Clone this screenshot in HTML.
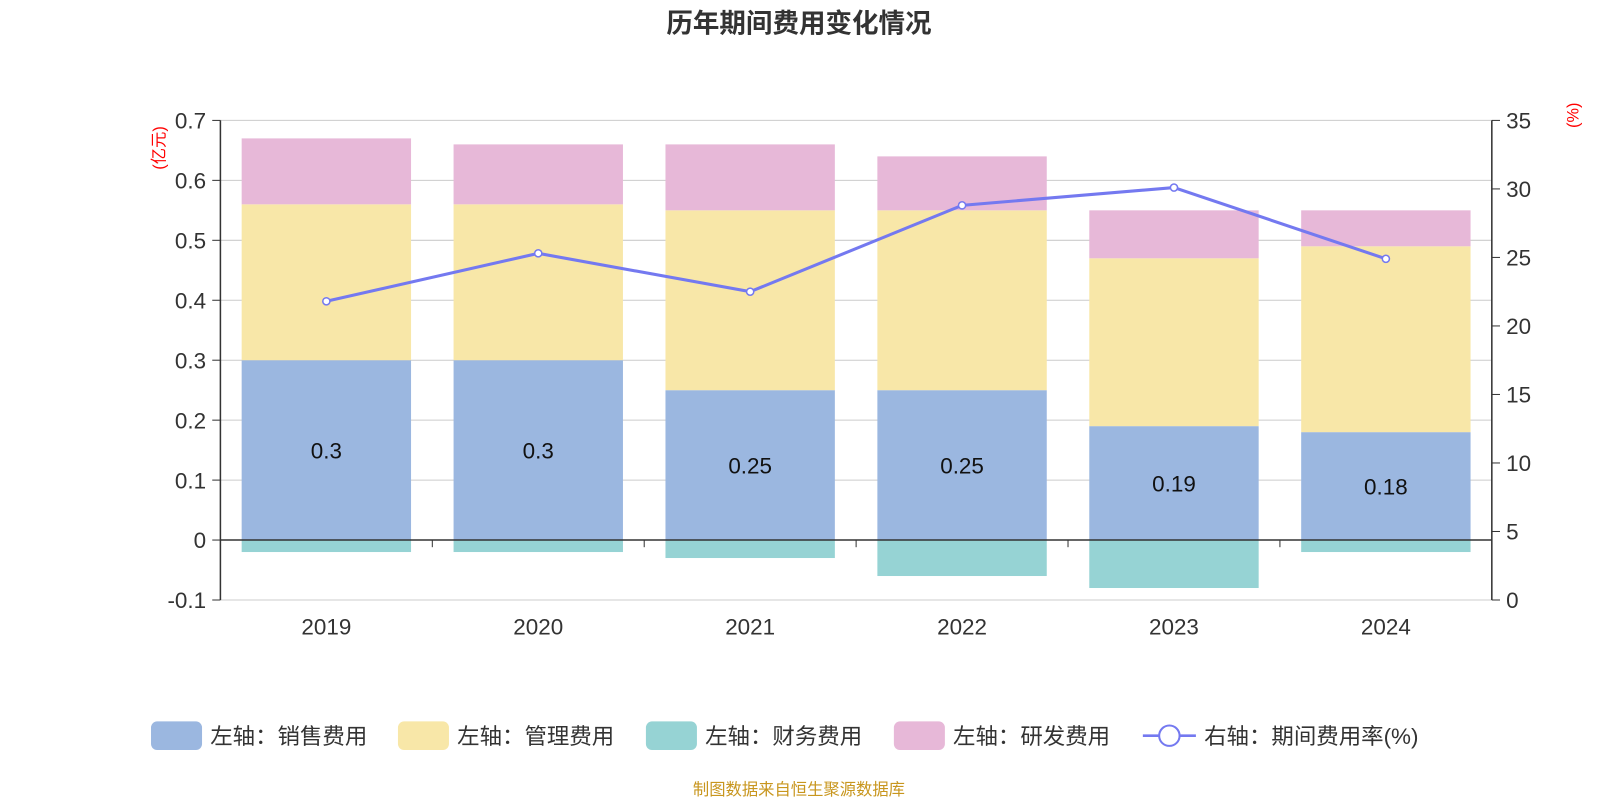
<!DOCTYPE html>
<html><head><meta charset="utf-8"><style>
body{margin:0;background:#fff;}
svg text{font-family:"Liberation Sans","Noto Sans CJK SC",sans-serif;}
</style></head><body>
<svg id="c" width="1600" height="800" xmlns="http://www.w3.org/2000/svg">
<g transform="scale(1.0204)">
<text x="783" y="32" text-anchor="middle" font-size="26" font-weight="bold" fill="#333">历年期间费用变化情况</text>
<g id="grid"></g><g id="bars"></g><g id="axes"></g><g id="line"></g><g id="legend"></g>
<text x="783" y="779" text-anchor="middle" font-size="16" fill="#c8961e">制图数据来自恒生聚源数据库</text>
</g>
</svg>
<script>
const categories=["2019","2020","2021","2022","2023","2024"];
const sales=[0.3,0.3,0.25,0.25,0.19,0.18];
const mgmt=[0.26,0.26,0.30,0.30,0.28,0.31];
const finance=[-0.02,-0.02,-0.03,-0.06,-0.08,-0.02];
const rnd=[0.11,0.10,0.11,0.09,0.08,0.06];
const rate=[21.8,25.3,22.5,28.8,30.1,24.9];
const leftTicks=[-0.1,0,0.1,0.2,0.3,0.4,0.5,0.6,0.7];
const rightTicks=[0,5,10,15,20,25,30,35];
const NS="http://www.w3.org/2000/svg";
const X0=216,X1=1462,Y0=588,Y1=118;
const band=(X1-X0)/categories.length;
const xc=i=>X0+band*(i+0.5);
const yL=v=>Y0-(v+0.1)/0.8*(Y0-Y1);
const yR=v=>Y0-v/35*(Y0-Y1);
function mk(tag,attrs,parent,txt){const e=document.createElementNS(NS,tag);for(const k in attrs)e.setAttribute(k,attrs[k]);if(txt!==undefined)e.textContent=txt;document.getElementById(parent).appendChild(e);return e;}
leftTicks.forEach((t,i)=>{
 const y=yL(t);
 const g=mk('line',{x1:X0,x2:X1,y1:y,y2:y,stroke:'#ccc','stroke-width':1},'grid');
 
 
 const tk=mk('line',{x1:X0-8,x2:X0,y1:y,y2:y,stroke:'#333'},'axes');
 
 
 const l=mk('text',{x:X0-14,y:y+8,'text-anchor':'end','font-size':22,fill:'#333'},'axes',String(t));
 
 
});
rightTicks.forEach(t=>{
 const y=yR(t);
 const tk=mk('line',{x1:X1,x2:X1+8,y1:y,y2:y,stroke:'#333'},'axes');
 
 
 const l=mk('text',{x:X1+14,y:y+8,'font-size':22,fill:'#333'},'axes',String(t));
 
 
});
let a=mk('line',{x1:X0,x2:X0,y1:Y1,y2:Y0,stroke:'#333','stroke-width':1.5},'axes');

a=mk('line',{x1:X1,x2:X1,y1:Y1,y2:Y0,stroke:'#333','stroke-width':1.5},'axes');

a=mk('line',{x1:X0,x2:X1,y1:yL(0),y2:yL(0),stroke:'#333','stroke-width':1.5},'axes');

a=mk('text',{x:0,y:0,transform:`translate(161,145) rotate(-90)`,'text-anchor':'middle','font-size':16,fill:'red'},'axes','(亿元)');

a=mk('text',{x:0,y:0,transform:`translate(1547,113) rotate(-90)`,'text-anchor':'middle','font-size':16,fill:'red'},'axes','(%)');

const bw=166;
categories.forEach((c,i)=>{
 const x=xc(i)-bw/2;
 if(i>0){const tk=mk('line',{x1:X0+band*i,x2:X0+band*i,y1:yL(0),y2:yL(0)+7,stroke:'#333'},'axes');
 }
 const lb=mk('text',{x:xc(i),y:622,'text-anchor':'middle','font-size':22,fill:'#333'},'axes',c);
 
 let r=mk('rect',{x:x,y:yL(sales[i]),width:bw,height:yL(0)-yL(sales[i]),fill:'#9bb7e0'},'bars');
 
 r=mk('rect',{x:x,y:yL(sales[i]+mgmt[i]),width:bw,height:yL(sales[i])-yL(sales[i]+mgmt[i]),fill:'#f8e7a8'},'bars');
 
 const top=sales[i]+mgmt[i]+rnd[i];
 r=mk('rect',{x:x,y:yL(top),width:bw,height:yL(sales[i]+mgmt[i])-yL(top),fill:'#e7b8d8'},'bars');
 
 r=mk('rect',{x:x,y:yL(0),width:bw,height:yL(finance[i])-yL(0),fill:'#96d3d4'},'bars');
 
 const t=mk('text',{x:xc(i),y:(yL(0)+yL(sales[i]))/2+8,'text-anchor':'middle','font-size':22,fill:'#111'},'bars',String(sales[i]));
 
});
const pts=rate.map((v,i)=>xc(i)+','+yR(v)).join(' ');
const pl=mk('polyline',{points:pts,fill:'none',stroke:'#7479f0','stroke-width':3},'line');

rate.forEach((v,i)=>{const p=mk('circle',{cx:xc(i),cy:yR(v),r:3.5,fill:'#fff',stroke:'#7479f0','stroke-width':1.5},'line');
 });
const legend=[["左轴：销售费用","#9bb7e0",148],["左轴：管理费用","#f8e7a8",390],["左轴：财务费用","#96d3d4",633],["左轴：研发费用","#e7b8d8",876]];
legend.forEach(l=>{
 const r=mk('rect',{x:l[2],y:707,width:50,height:28,rx:6,fill:l[1]},'legend');
 
 const t=mk('text',{x:l[2]+58,y:729,'font-size':22,fill:'#333'},'legend',l[0]);
 
});
let ll=mk('line',{x1:1120,x2:1172,y1:721,y2:721,stroke:'#7479f0','stroke-width':2.5},'legend');

ll=mk('circle',{cx:1146,cy:721,r:10,fill:'#fff',stroke:'#7479f0','stroke-width':2},'legend');

ll=mk('text',{x:1180,y:729,'font-size':22,fill:'#333'},'legend','右轴：期间费用率(%)');

</script>
</body></html>
